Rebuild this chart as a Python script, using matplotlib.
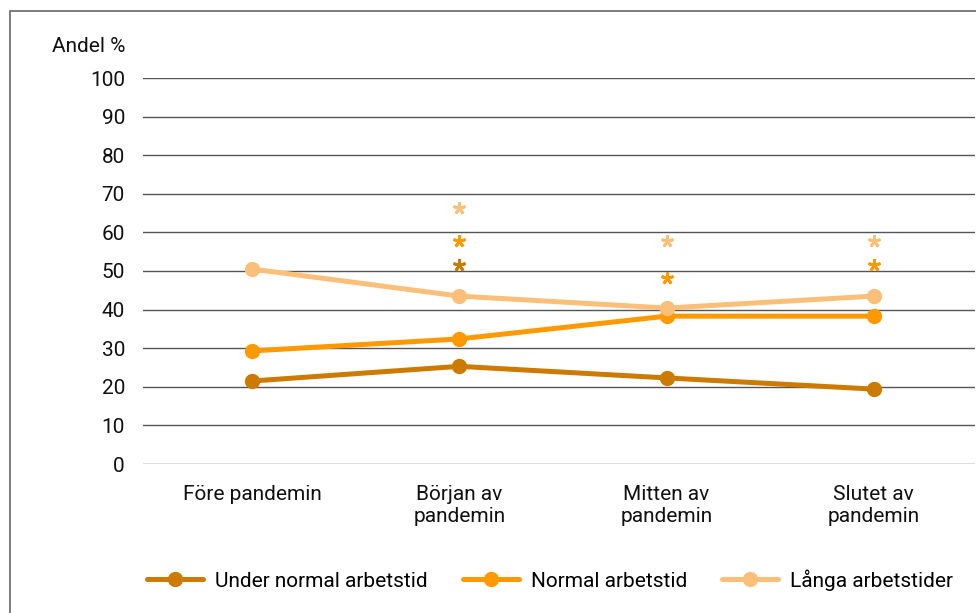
import matplotlib
matplotlib.use("Agg")
import matplotlib.pyplot as plt
from matplotlib.patches import Rectangle

plt.rcParams['font.family'] = ['Roboto', 'DejaVu Sans']

# Periods and share per working-time group
categories = ["Före pandemin", "Början av\npandemin", "Mitten av\npandemin", "Slutet av\npandemin"]
series_names = ["Under normal arbetstid", "Normal arbetstid", "Långa arbetstider"]
under_normal = [21.5, 25.3, 22.3, 19.4]
normal = [29.3, 32.4, 38.3, 38.3]
langa = [50.5, 43.5, 40.4, 43.5]

# Significance markers (x index, y level) per series
stars_under = ([1], [51.6])
stars_normal = ([1, 2, 3], [57.8, 48.2, 51.6])
stars_langa = ([1, 2, 3], [66.3, 57.8, 57.8])

colors = ["#CC7A00", "#FF9900", "#FAC07A"]

fig = plt.figure(figsize=(9.76, 6.13), dpi=100)
ax = fig.add_axes([143 / 976, 1 - 464 / 613, (975 - 143) / 976, (464 - 78) / 613])

x = list(range(len(categories)))
for vals, name, c in zip([under_normal, normal, langa], series_names, colors):
    ax.plot(x, vals, color=c, lw=3.6, marker='o', markersize=10, label=name,
            solid_capstyle='round', zorder=3)

for (sx, sy), c in zip([stars_under, stars_normal, stars_langa], colors):
    ax.plot(sx, sy, ls='none', marker=(5, 2, 0), markersize=9, mew=2,
            color=c, zorder=3)

ax.set_xlim(-0.526, 3.488)
ax.set_ylim(0, 100)
ax.set_yticks(range(0, 101, 10))
ax.grid(axis='y', color='#555555', lw=1)
ax.set_axisbelow(True)
for s in ax.spines.values():
    s.set_visible(False)
ax.tick_params(axis='both', length=0, labelsize=15, colors='#111111')
ax.tick_params(axis='y', pad=13)
ax.tick_params(axis='x', pad=15)
ax.set_xticks(x)
ax.set_xticklabels(categories, linespacing=1.2)

fig.text(125 / 976, 1 - 47 / 613, "Andel %", ha='right', va='center', fontsize=15, color='#111111')

ax.legend(loc='center', bbox_to_anchor=(550 / 976, 1 - 580 / 613), bbox_transform=fig.transFigure,
          ncol=3, frameon=False, fontsize=15, handlelength=2.7, handletextpad=0.55,
          columnspacing=1.7, markerscale=1.0)

# outer frame
fig.patches.append(Rectangle((9.5 / 976, -0.05), 1.1, 1 - 10.5 / 613 + 0.05, transform=fig.transFigure,
                             fill=False, edgecolor='#666666', lw=1.2))

fig.savefig("out.png", dpi=100)
